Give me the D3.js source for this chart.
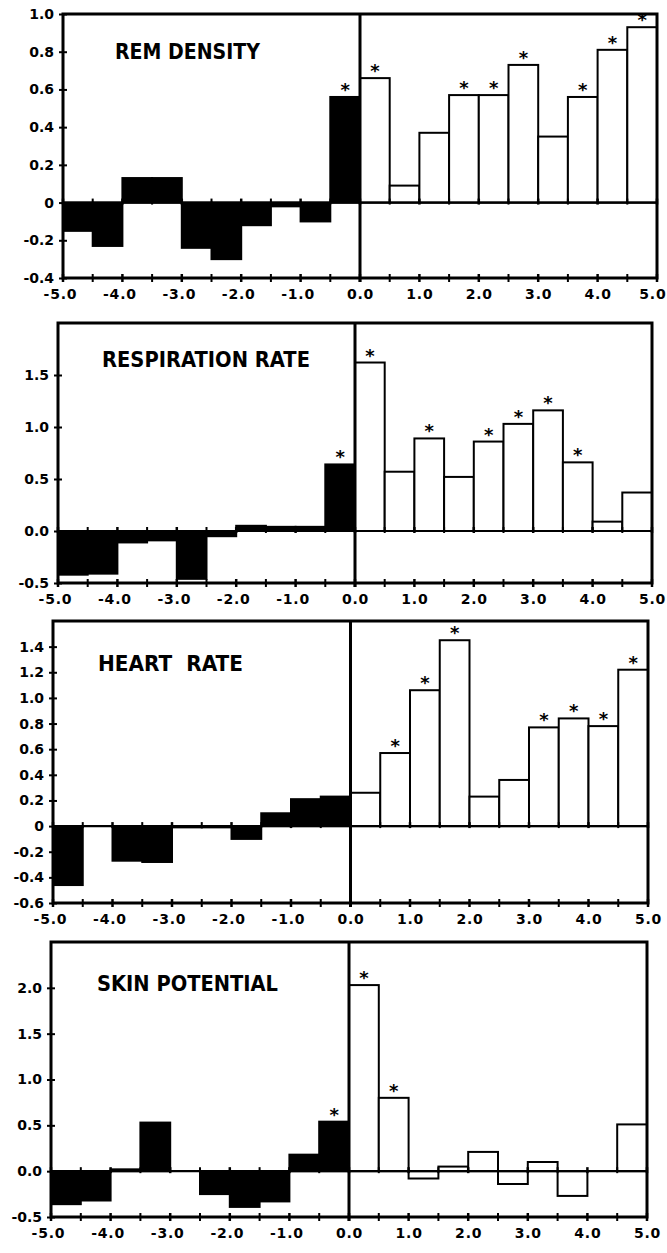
<!DOCTYPE html>
<html><head><meta charset="utf-8">
<script src="https://cdn.jsdelivr.net/npm/d3@7"></script>
<style>body{margin:0;background:#fff}svg{display:block}</style>
</head><body>
<svg id="c" width="667" height="1253"></svg>
<script>
// ---- data ----
const binStarts = [-5.0,-4.5,-4.0,-3.5,-3.0,-2.5,-2.0,-1.5,-1.0,-0.5,0.0,0.5,1.0,1.5,2.0,2.5,3.0,3.5,4.0,4.5];
const xTickValues = [-5,-4,-3,-2,-1,0,1,2,3,4,5];
const xTickLabels = ["-5.0","-4.0","-3.0","-2.0","-1.0","0.0","1.0","2.0","3.0","4.0","5.0"];
const panelTitles = ["REM DENSITY","RESPIRATION RATE","HEART  RATE","SKIN POTENTIAL"];

const remDensity = [-0.15,-0.23,0.13,0.13,-0.24,-0.30,-0.12,-0.02,-0.10,0.56,0.66,0.09,0.37,0.57,0.57,0.73,0.35,0.56,0.81,0.93];
const remStars   = [0,0,0,0,0,0,0,0,0,1,1,0,0,1,1,1,0,1,1,1];
const remYTicks  = [1.0,0.8,0.6,0.4,0.2,0,-0.2,-0.4];
const remYLabels = ["1.0","0.8","0.6","0.4","0.2","0","-0.2","-0.4"];

const respRate   = [-0.42,-0.41,-0.11,-0.09,-0.46,-0.05,0.05,0.04,0.04,0.64,1.62,0.57,0.89,0.52,0.86,1.03,1.16,0.66,0.09,0.37];
const respStars  = [0,0,0,0,0,0,0,0,0,1,1,0,1,0,1,1,1,1,0,0];
const respYTicks = [1.5,1.0,0.5,0.0,-0.5];
const respYLabels= ["1.5","1.0","0.5","0.0","-0.5"];

const heartRate  = [-0.46,0,-0.27,-0.28,-0.01,-0.01,-0.10,0.10,0.21,0.23,0.26,0.57,1.06,1.45,0.23,0.36,0.77,0.84,0.78,1.22];
const heartStars = [0,0,0,0,0,0,0,0,0,0,0,1,1,1,0,0,1,1,1,1];
const heartYTicks= [1.4,1.2,1.0,0.8,0.6,0.4,0.2,0,-0.2,-0.4,-0.6];
const heartYLabels=["1.4","1.2","1.0","0.8","0.6","0.4","0.2","0","-0.2","-0.4","-0.6"];

const skinPot    = [-0.36,-0.32,0.02,0.53,0,-0.25,-0.39,-0.33,0.18,0.54,2.03,0.80,-0.08,0.05,0.21,-0.14,0.10,-0.27,0,0.51];
const skinStars  = [0,0,0,0,0,0,0,0,0,1,1,1,0,0,0,0,0,0,0,0];
const skinYTicks = [2.0,1.5,1.0,0.5,0.0,-0.5];
const skinYLabels= ["2.0","1.5","1.0","0.5","0.0","-0.5"];

const yDomains = [[-0.4,1.0],[-0.5,2.0],[-0.6,1.6],[-0.5,2.5]];

// ---- layout ----
const panels = [
  {vals:remDensity, stars:remStars, yt:remYTicks, yl:remYLabels, dom:yDomains[0],
   left:63, right:657, top:14, bottom:278, tx:115, ty:59, tw:145},
  {vals:respRate, stars:respStars, yt:respYTicks, yl:respYLabels, dom:yDomains[1],
   left:58, right:652, top:323, bottom:583, tx:102, ty:367, tw:208},
  {vals:heartRate, stars:heartStars, yt:heartYTicks, yl:heartYLabels, dom:yDomains[2],
   left:53, right:648, top:621, bottom:903, tx:98, ty:671, tw:145},
  {vals:skinPot, stars:skinStars, yt:skinYTicks, yl:skinYLabels, dom:yDomains[3],
   left:51, right:647, top:942, bottom:1217, tx:97, ty:991, tw:181}
];

const svg = d3.select("#c");
const FONT = "'DejaVu Sans', Verdana, sans-serif";
const W = 667;

panels.forEach((p, pi) => {
  const x = d3.scaleLinear().domain([-5, 5]).range([p.left, p.right]);
  const y = d3.scaleLinear().domain(p.dom).range([p.bottom, p.top]);
  const g = svg.append("g");

  // bars
  const bins = binStarts.map((b, i) => ({b, v: p.vals[i], s: p.stars[i]}));
  g.selectAll("rect.bar").data(bins.filter(d => d.v !== 0)).join("rect")
    .attr("class", "bar")
    .attr("x", d => x(d.b))
    .attr("width", d => x(d.b + 0.5) - x(d.b))
    .attr("y", d => y(Math.max(0, d.v)))
    .attr("height", d => Math.abs(y(d.v) - y(0)))
    .attr("fill", d => d.b < 0 ? "#000" : "#fff")
    .attr("stroke", "#000")
    .attr("stroke-width", 2);

  // stars
  g.selectAll("text.star").data(bins.filter(d => d.s)).join("text")
    .attr("class", "star")
    .attr("x", d => x(d.b + 0.25))
    .attr("y", d => y(Math.max(0, d.v)) - 1)
    .attr("text-anchor", "middle")
    .attr("font-family", FONT).attr("font-weight", "bold")
    .attr("font-size", 18)
    .text("*");

  // zero line
  g.append("line").attr("x1", p.left).attr("x2", p.right)
    .attr("y1", y(0)).attr("y2", y(0))
    .attr("stroke", "#000").attr("stroke-width", 2.2);

  // tick marks on zero line and bottom axis (every 0.5)
  const tickPos = binStarts.concat([5.0]);
  [y(0), p.bottom].forEach((yy, k) => {
    g.selectAll(null).data(tickPos).join("line")
      .attr("x1", d => x(d)).attr("x2", d => x(d))
      .attr("y1", yy - 4).attr("y2", yy + (k === 0 ? 2 : 4))
      .attr("stroke", "#000").attr("stroke-width", d => Number.isInteger(d) ? 2.5 : 2);
  });

  // frame
  g.append("rect").attr("x", p.left).attr("y", p.top)
    .attr("width", p.right - p.left).attr("height", p.bottom - p.top)
    .attr("fill", "none").attr("stroke", "#000").attr("stroke-width", 3);

  // divider at 0
  g.append("line").attr("x1", x(0)).attr("x2", x(0))
    .attr("y1", p.top).attr("y2", p.bottom + 4)
    .attr("stroke", "#000").attr("stroke-width", 3);

  // y axis
  const ya = d3.axisLeft(y).tickValues(p.yt)
    .tickFormat((d, i) => p.yl[i]).tickSize(4).tickPadding(6);
  const yg = g.append("g").attr("transform", `translate(${p.left},0)`).call(ya);
  yg.select(".domain").remove();
  yg.selectAll(".tick line").attr("x1", 4).attr("x2", -4)
    .attr("stroke", "#000").attr("stroke-width", 2);
  yg.selectAll(".tick text").attr("font-family", FONT).attr("font-weight", "bold")
    .attr("font-size", 14).attr("fill", "#000").attr("x", -9);

  // x axis labels
  const xa = d3.axisBottom(x).tickValues(xTickValues)
    .tickFormat((d, i) => xTickLabels[i]).tickSize(0).tickPadding(0);
  const xg = g.append("g").attr("transform", `translate(0,${p.bottom})`).call(xa);
  xg.select(".domain").remove();
  xg.selectAll(".tick text").attr("font-family", FONT).attr("font-weight", "bold")
    .attr("font-size", 14).attr("fill", "#000")
    .attr("dy", null).attr("y", 21)
    .attr("letter-spacing", 0.8)
    .attr("dx", d => d < 0 ? -3 : 0)
    .each(function(d) {
      // keep the last label inside the page
      const bb = this.getBBox();
      const cx = x(d);
      const overflow = cx + bb.x + bb.width - (W - 1);
      if (overflow > 0) d3.select(this).attr("dx", -overflow);
    });

  // title
  g.append("text").attr("x", p.tx).attr("y", p.ty)
    .attr("font-family", FONT).attr("font-weight", "bold")
    .attr("font-size", 22)
    .attr("textLength", p.tw).attr("lengthAdjust", "spacingAndGlyphs")
    .style("white-space", "pre")
    .text(panelTitles[pi]);
});
</script>
</body></html>
